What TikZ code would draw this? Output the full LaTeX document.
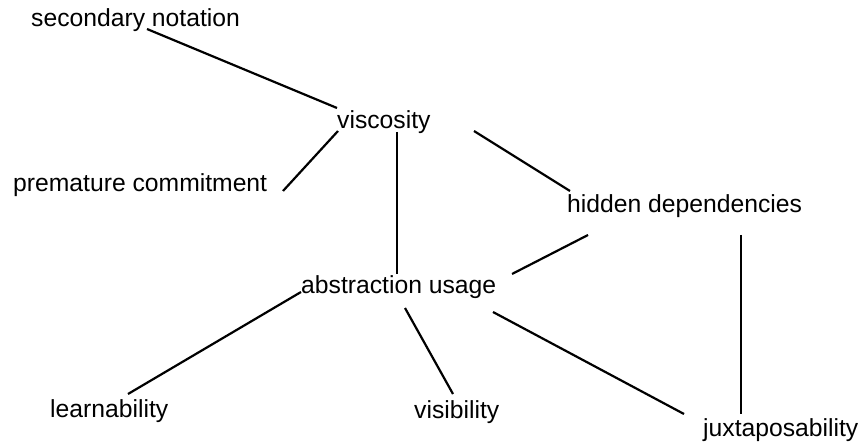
\documentclass[tikz,border=0pt]{standalone}
\usepackage{fontspec}
\setmainfont{Liberation Sans}
\begin{document}
\begin{tikzpicture}[x=1bp,y=-1bp,
  term/.style={anchor=base west,inner sep=0pt,font=\fontsize{24.7bp}{28bp}\selectfont},
  link/.style={line width=2.2bp,black}]
\useasboundingbox[fill=white] (0,0) rectangle (858,443);

% terms
\node[term] (sec)  at (31,27)  {secondary notation};
\node[term] (visc) at (337,129) {viscosity};
\node[term] (prem) at (13,192) {premature commitment};
\node[term] (hid)  at (567,213) {hidden dependencies};
\node[term] (abs)  at (301,294) {abstraction usage};
\node[term] (lrn)  at (50,417) {learnability};
\node[term] (vis)  at (414,418) {visibility};
\node[term] (jux)  at (703,436) {juxtaposability};

% end points of the links
\coordinate (sec-a)  at (147,29);  \coordinate (visc-a) at (337,108);
\coordinate (visc-b) at (338,131); \coordinate (prem-a) at (283,191);
\coordinate (visc-c) at (397,132); \coordinate (abs-a)  at (397,274);
\coordinate (visc-d) at (474,131); \coordinate (hid-a)  at (570,191);
\coordinate (hid-b)  at (588,235); \coordinate (abs-b)  at (512,274);
\coordinate (hid-c)  at (741,235); \coordinate (jux-a)  at (741,414);
\coordinate (abs-c)  at (301,292); \coordinate (lrn-a)  at (128,394);
\coordinate (abs-d)  at (405,308); \coordinate (vis-a)  at (453,394);
\coordinate (abs-e)  at (493,312); \coordinate (jux-b)  at (684,414);

% links
\draw[link] (sec-a) -- (visc-a);
\draw[link] (visc-b) -- (prem-a);
\draw[link] (visc-c) -- (abs-a);
\draw[link] (visc-d) -- (hid-a);
\draw[link] (hid-b) -- (abs-b);
\draw[link] (hid-c) -- (jux-a);
\draw[link] (abs-c) -- (lrn-a);
\draw[link] (abs-d) -- (vis-a);
\draw[link] (abs-e) -- (jux-b);
\end{tikzpicture}
\end{document}
